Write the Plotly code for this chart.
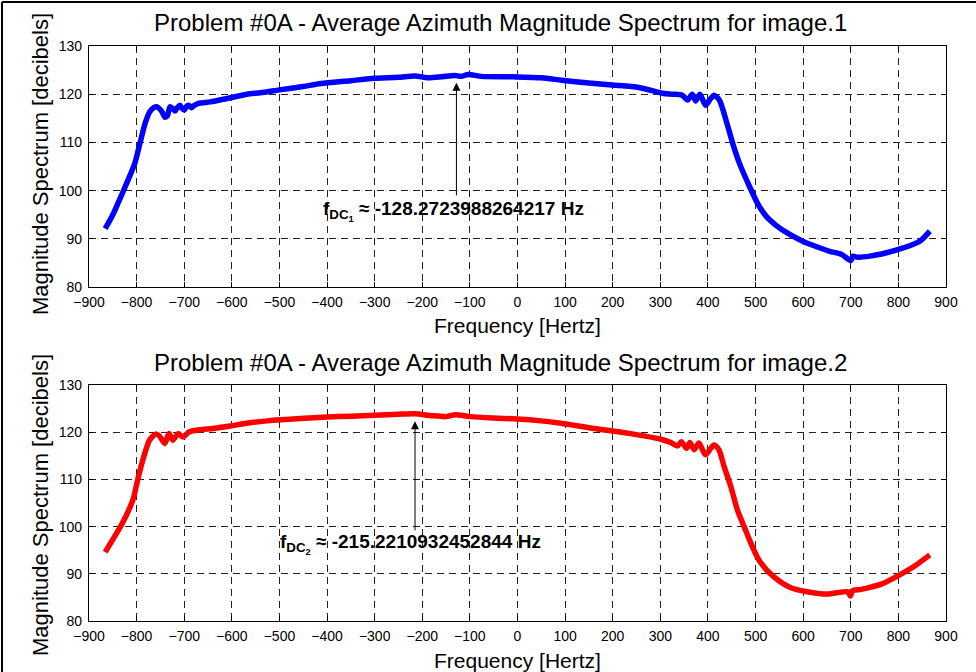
import plotly.graph_objects as go

freq1 = [-866, -850, -839, -821, -804, -793, -782, -772, -764, -758,
         -752, -747, -740, -735, -730, -724, -719, -714, -709, -704,
         -700, -695, -691, -685, -680, -670, -645, -610, -568, -540,
         -500, -450, -413, -350, -301, -250, -216, -188, -160, -132,
         -118, -104, -76, -8, 50, 93, 150, 198, 255, 304,
         325, 346, 357, 367, 374, 383, 395, 405, 413, 424,
         438, 452, 466, 487, 505, 522, 543, 570, 599, 630,
         656, 680, 700, 705, 712, 740, 775, 810, 845, 866]
mag1 = [92.1, 95.0, 97.4, 101.5, 105.6, 109.8, 114.0, 116.4, 117.2, 117.4,
        117.0, 116.4, 115.2, 115.6, 117.4, 117.0, 116.5, 117.3, 117.7, 117.0,
        116.7, 117.5, 117.7, 117.2, 117.6, 118.1, 118.4, 119.1, 120.0, 120.3,
        120.9, 121.6, 122.2, 122.8, 123.3, 123.5, 123.8, 123.4, 123.6, 123.9,
        123.7, 124.1, 123.7, 123.6, 123.4, 122.9, 122.3, 121.9, 121.4, 120.2,
        120.0, 119.8, 118.8, 120.0, 118.6, 120.0, 117.7, 119.0, 119.8, 118.8,
        114.6, 109.8, 105.7, 100.9, 97.2, 94.7, 92.8, 91.0, 89.5, 88.3,
        87.4, 86.8, 85.5, 86.4, 86.2, 86.4, 87.1, 88.1, 89.5, 91.6]

freq2 = [-866, -851, -830, -808, -798, -787, -773, -760, -752, -741,
         -732, -724, -713, -703, -689, -668, -639, -604, -569, -526,
         -456, -400, -350, -300, -250, -215, -180, -150, -130, -100,
         -50, 0, 50, 91, 161, 231, 301, 322, 336, 344,
         355, 362, 371, 381, 395, 412, 423, 434, 448, 462,
         476, 493, 509, 538, 573, 608, 651, 694, 699, 704,
         722, 764, 800, 835, 866]
mag2 = [94.6, 97.1, 100.7, 105.6, 109.8, 114.1, 118.3, 119.6, 119.2, 117.6,
        119.7, 118.3, 119.7, 119.0, 120.1, 120.5, 120.8, 121.3, 121.9, 122.4,
        122.9, 123.2, 123.4, 123.6, 123.8, 123.9, 123.5, 123.3, 123.7, 123.3,
        123.0, 122.8, 122.4, 121.9, 120.8, 119.8, 118.5, 117.8, 117.1, 118.0,
        116.6, 117.8, 116.3, 117.7, 115.2, 117.3, 116.3, 112.7, 108.5, 103.5,
        100.0, 95.8, 92.6, 89.4, 87.1, 86.2, 85.7, 86.2, 85.3, 86.4,
        86.7, 87.8, 89.6, 91.7, 94.0]

fdc1 = -128.2723988264217
fdc2 = -215.2210932452844
titles = ["Problem #0A - Average Azimuth Magnitude Spectrum for image.1",
          "Problem #0A - Average Azimuth Magnitude Spectrum for image.2"]
xlabel = "Frequency [Hertz]"
ylabel = "Magnitude Spectrum [decibels]"
xticks = list(range(-900, 901, 100))
yticks = [80, 90, 100, 110, 120, 130]

FONT = "Liberation Sans, Arial, sans-serif"
NARROW = "Liberation Sans Narrow, Arial Narrow, Liberation Sans, sans-serif"
W, H = 976, 672
L, R, T, B = 89, 30, 46, 51
PW, PH = W - L - R, H - T - B

def py2paper(py):
    return (H - B - py) / PH

def px2paper(px):
    return (px - L) / PW

fig = go.Figure()
fig.add_trace(go.Scatter(x=freq1, y=mag1, mode="lines", xaxis="x", yaxis="y",
                         line=dict(color="#0000FF", width=5.5, shape="spline", smoothing=0.7),
                         showlegend=False))
fig.add_trace(go.Scatter(x=freq2, y=mag2, mode="lines", xaxis="x2", yaxis="y2",
                         line=dict(color="#FF0000", width=5.5, shape="spline", smoothing=0.7),
                         showlegend=False))

axis_common = dict(showline=True, linecolor="black", linewidth=1.3, mirror="ticks",
                   ticks="inside", ticklen=5, tickcolor="black",
                   showgrid=True, gridcolor="#222222", griddash="7px,5px", gridwidth=1,
                   zeroline=False, tickfont=dict(family=NARROW, size=14, color="black"))

fig.update_layout(
    width=W, height=H, margin=dict(l=L, r=R, t=T, b=B),
    paper_bgcolor="white", plot_bgcolor="white",
    xaxis=dict(domain=[0, 1], anchor="y", range=[-900, 900], tickvals=xticks,
               ticklabelstandoff=2, **axis_common),
    yaxis=dict(domain=[py2paper(287), 1], anchor="x", range=[80, 130], tickvals=yticks,
               ticklabelstandoff=3, **axis_common),
    xaxis2=dict(domain=[0, 1], anchor="y2", range=[-900, 900], tickvals=xticks,
                ticklabelstandoff=2, **axis_common),
    yaxis2=dict(domain=[0, py2paper(385)], anchor="x2", range=[80, 130], tickvals=yticks,
                ticklabelstandoff=3, **axis_common),
)

ann = []
for i, (tpy, xlpy, ylpy) in enumerate([(22, 325, 164), (362, 660, 505)]):
    ann.append(dict(text=titles[i], xref="paper", yref="paper", x=px2paper(500), y=py2paper(tpy),
                    xanchor="center", yanchor="middle", showarrow=False,
                    font=dict(family=FONT, size=24, color="black")))
    ann.append(dict(text=xlabel, xref="paper", yref="paper", x=0.5, y=py2paper(xlpy),
                    xanchor="center", yanchor="middle", showarrow=False,
                    font=dict(family=FONT, size=21, color="black")))
    ann.append(dict(text=ylabel, xref="paper", yref="paper", x=px2paper(40), y=py2paper(ylpy),
                    xanchor="center", yanchor="middle", showarrow=False, textangle=-90,
                    font=dict(family=FONT, size=22, color="black")))

# arrows
for xr, yr, f, tip, tail in [("x", "y", fdc1, 122.4, 98.7), ("x2", "y2", fdc2, 122.3, 98.9)]:
    ann.append(dict(x=f, y=tip, ax=f, ay=tail, xref=xr, yref=yr, axref=xr, ayref=yr,
                    text="", showarrow=True, arrowhead=2, arrowsize=1.6, arrowwidth=1,
                    arrowcolor="black", standoff=0))
# labels
ann.append(dict(x=-413, y=95.8, xref="x", yref="y", xanchor="left", yanchor="middle",
                text="f<sub>DC<sub>1</sub></sub> ≈ -128.2723988264217 Hz", showarrow=False,
                font=dict(family=FONT, size=19, color="black", weight="bold")))
ann.append(dict(x=-502, y=96.4, xref="x2", yref="y2", xanchor="left", yanchor="middle",
                text="f<sub>DC<sub>2</sub></sub> ≈ -215.2210932452844 Hz", showarrow=False,
                font=dict(family=FONT, size=19, color="black", weight="bold")))
fig.update_layout(annotations=ann)

# outer frame (top and left edges)
fig.add_shape(type="line", xref="paper", yref="paper", x0=px2paper(2), x1=px2paper(976),
              y0=py2paper(2), y1=py2paper(2), line=dict(color="black", width=2))
fig.add_shape(type="line", xref="paper", yref="paper", x0=px2paper(2), x1=px2paper(2),
              y0=py2paper(2), y1=py2paper(672), line=dict(color="black", width=2))

fig.write_html("out.html")
